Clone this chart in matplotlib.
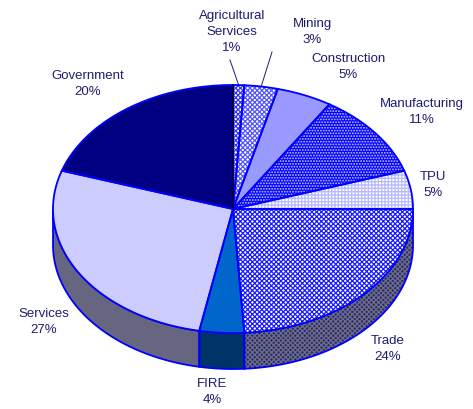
import numpy as np
import matplotlib
matplotlib.use("Agg")
import matplotlib.pyplot as plt
from matplotlib.patches import Polygon

categories = ["Agricultural\nServices", "Mining", "Construction", "Manufacturing",
              "TPU", "Trade", "FIRE", "Services", "Government"]
shares = [1, 3, 5, 11, 5, 24, 4, 27, 20]

top_face = ["#ffffff", "#ffffff", "#9999ff", "#0000ff", "#ffffff", "#ffffff", "#0066cc", "#ccccff", "#000080"]
top_hatch = ["xxxxxxx", "xxxxxxx", None, "......", "+++++", "xxxxxxx", None, None, None]
top_hcol = ["#3333ff", "#5555ff", None, "#ccccff", "#b8b8ff", "#1a1aff", None, None, None]
side_face = ["#666680", "#666680", "#666680", "#666680", "#666680", "#2b2b5c", "#003366", "#666680", "#000040"]
side_hatch = [None, None, None, None, None, "xxxxxxx", None, None, None]
side_hcol = [None, None, None, None, None, "#6c6c90", None, None, None]

label_pos = [(232, 32), (312, 32), (348, 67), (422, 112), (433, 185), (388, 349), (212, 392), (44, 322), (88, 84)]
text_col = "#1c1c70"
edge = "#0000ff"

CX, CY, RX, RY, DEPTH = 233, 209, 180, 124, 36

plt.rcParams["font.family"] = ["Liberation Sans", "DejaVu Sans"]
plt.rcParams["hatch.linewidth"] = 0.9
fig = plt.figure(figsize=(4.73, 4.09), dpi=100)
ax = fig.add_axes([0, 0, 1, 1])
ax.set_xlim(0, 473)
ax.set_ylim(409, 0)
ax.axis("off")


def rim(a0, a1, dy=0.0):
    t = np.radians(np.linspace(a0, a1, max(int(abs(a1 - a0)) * 2, 2) + 1))
    return np.column_stack([CX + RX * np.sin(t), CY - RY * np.cos(t) + dy])


def fill(pts, face, hatch, hcol, z):
    ax.add_patch(Polygon(pts, closed=True, facecolor=face, edgecolor="none", lw=0, zorder=z))
    if hatch:
        ax.add_patch(Polygon(pts, closed=True, facecolor="none", edgecolor=hcol, hatch=hatch, lw=0, zorder=z + 0.1))
    ax.add_patch(Polygon(pts, closed=True, facecolor="none", edgecolor=edge, lw=1.3, zorder=z + 0.2))


edges = np.cumsum([0] + shares) * 3.6
for i in range(len(shares)):
    a0, a1 = edges[i], edges[i + 1]
    s0, s1 = max(a0, 90), min(a1, 270)
    if s0 < s1:
        pts = np.vstack([rim(s0, s1), rim(s1, s0, DEPTH)])
        fill(pts, side_face[i], side_hatch[i], side_hcol[i], 1)

for i in range(len(shares)):
    pts = np.vstack([[[CX, CY]], rim(edges[i], edges[i + 1])])
    fill(pts, top_face[i], top_hatch[i], top_hcol[i], 2)

# dark divider between Government and Agricultural Services
top = rim(0, 0)[0]
ax.plot([CX, top[0]], [CY, top[1]], color="#000020", lw=1.2, zorder=3)

for i, (x, y) in enumerate(label_pos):
    ax.text(x, y, f"{categories[i]}\n{shares[i]}%", ha="center", va="center",
            fontsize=9.5, color=text_col, linespacing=1.47, zorder=5)

# leader lines for the two smallest slices
for i, start in ((0, (230, 60)), (1, (272, 52))):
    mid = rim(edges[i], edges[i + 1])
    end = mid[len(mid) // 2]
    ax.plot([start[0], end[0]], [start[1], end[1]], color=text_col, lw=0.7, zorder=1.5)

fig.savefig("out.png", dpi=100, facecolor="white")
